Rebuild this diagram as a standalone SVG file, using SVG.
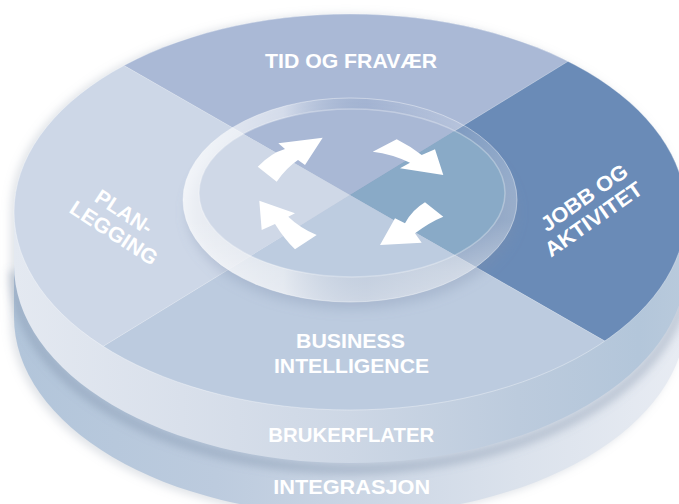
<svg xmlns="http://www.w3.org/2000/svg" width="679" height="504" viewBox="0 0 679 504">
<style>
text{font-family:"Liberation Sans",Arial,"Helvetica",sans-serif;font-weight:bold;fill:#fff;font-size:21px}
.c{text-anchor:middle}
.arrow{fill:#fff}
.qline{stroke:#fff;stroke-opacity:.35;stroke-width:.8}
</style>
<defs>
<linearGradient id="band1" gradientUnits="userSpaceOnUse" x1="14" y1="0" x2="686" y2="0">
<stop offset="0" stop-color="#e4e9f1"/>
<stop offset="0.25" stop-color="#d9e0eb"/>
<stop offset="0.5" stop-color="#cdd7e5"/>
<stop offset="0.75" stop-color="#bccbdd"/>
<stop offset="0.93" stop-color="#b3c6da"/>
<stop offset="1" stop-color="#b9cadc"/>
</linearGradient>
<linearGradient id="band2" gradientUnits="userSpaceOnUse" x1="14" y1="0" x2="686" y2="0">
<stop offset="0" stop-color="#b2c5da"/>
<stop offset="0.3" stop-color="#bccbde"/>
<stop offset="0.5" stop-color="#cad5e4"/>
<stop offset="0.75" stop-color="#dbe2ec"/>
<stop offset="1" stop-color="#e8ecf3"/>
</linearGradient>
<linearGradient id="ringGrad" x1="0" y1="0" x2="1" y2="0">
<stop offset="0" stop-color="#fff" stop-opacity="0.75"/>
<stop offset="0.3" stop-color="#fff" stop-opacity="0.5"/>
<stop offset="0.55" stop-color="#7f97bd" stop-opacity="0.15"/>
<stop offset="0.8" stop-color="#fff" stop-opacity="0.12"/>
<stop offset="1" stop-color="#fff" stop-opacity="0.3"/>
</linearGradient>
<linearGradient id="lipGrad" x1="0" y1="0" x2="0" y2="1">
<stop offset="0.6" stop-color="#fff" stop-opacity="0"/>
<stop offset="0.85" stop-color="#fff" stop-opacity="0.35"/>
<stop offset="1" stop-color="#fff" stop-opacity="0.45"/>
</linearGradient>
<clipPath id="faceClip"><ellipse cx="350" cy="212" rx="336" ry="198"/></clipPath>
<clipPath id="lensClip"><ellipse cx="352" cy="193" rx="153" ry="84"/></clipPath>
<filter id="blur6" x="-20%" y="-20%" width="140%" height="140%"><feGaussianBlur stdDeviation="6"/></filter>
<filter id="blur4" x="-20%" y="-20%" width="140%" height="140%"><feGaussianBlur stdDeviation="4"/></filter>
</defs>

<path d="M14,212 L14,320 A336,198 0 0 0 686,320 L686,212 A336,198 0 0 0 14,212 Z" fill="#9aa4b4" fill-opacity="0.3" filter="url(#blur4)" transform="translate(-4,0)"/>

<g id="layer-integrasjon">
<path d="M14,265 L14,317 A336,198 0 0 0 686,317 L686,265 A336,198 0 0 0 14,265 Z" fill="url(#band2)"/>
<path d="M14,267 A336,198 0 0 0 686,267" fill="none" stroke="#6f819d" stroke-opacity="0.35" stroke-width="10" filter="url(#blur4)" transform="translate(0,4)"/>
<text class="c" x="351.7" y="494" textLength="157" lengthAdjust="spacingAndGlyphs">INTEGRASJON</text>
</g>

<g id="layer-brukerflater">
<path d="M14,212 L14,265 A336,198 0 0 0 686,265 L686,212 A336,198 0 0 0 14,212 Z" fill="url(#band1)"/>
<text class="c" x="351.3" y="441.7" textLength="166" lengthAdjust="spacingAndGlyphs">BRUKERFLATER</text>
</g>

<g id="top-face" clip-path="url(#faceClip)">
<polygon id="q-top" points="-100,-62.9 350,195 800,-80.9 800,-200 -100,-200" fill="#aab9d6"/>
<polygon id="q-right" points="350,195 800,-80.9 800,452.9" fill="#6a8bb7"/>
<polygon id="q-bottom" points="350,195 800,452.9 800,600 -100,600 -100,470.9" fill="#bccbdf"/>
<polygon id="q-left" points="350,195 -100,470.9 -100,-62.9" fill="#cdd7e7"/>
<line class="qline" x1="-100" y1="-62.9" x2="800" y2="452.9"/>
<line class="qline" x1="800" y1="-80.9" x2="-100" y2="470.9"/>
</g>
<ellipse cx="350" cy="212" rx="336" ry="198" fill="none" stroke="#fff" stroke-opacity="0.35" stroke-width="1"/>

<g id="lens">
<ellipse cx="352" cy="212" rx="165" ry="97" fill="#7d8fab" fill-opacity="0.3" filter="url(#blur6)"/>
<ellipse cx="350" cy="200" rx="167" ry="102" fill="url(#ringGrad)"/>
<ellipse cx="350" cy="200" rx="167" ry="102" fill="url(#lipGrad)" stroke="#fff" stroke-opacity="0.4" stroke-width="1"/>
<g clip-path="url(#lensClip)">
<polygon points="-100,-62.9 350,195 800,-80.9 800,-200 -100,-200" fill="#a9b8d5"/>
<polygon points="350,195 800,-80.9 800,452.9" fill="#89aac7"/>
<polygon points="350,195 800,452.9 800,600 -100,600 -100,470.9" fill="#bdcce0"/>
<polygon points="350,195 -100,470.9 -100,-62.9" fill="#cfd8e7"/>
</g>
<ellipse cx="352" cy="193" rx="153" ry="84" fill="none" stroke="#fff" stroke-opacity="0.3" stroke-width="1.5"/>
</g>

<g id="arrows">
<path class="arrow" d="M257.7,166.7 Q271,153 285,149 L278.3,143.3 L322.7,137.7 L305,165 L298,160 Q286,168 276.7,181.7 Z"/>
<path class="arrow" d="M396.7,139.3 Q410,146 421.7,155 L435,149.3 L443.3,175 L400,168.3 L410,162.7 Q392,154 372.7,151.7 Z"/>
<path class="arrow" d="M425,202.3 Q412,210 405,223.3 L395,218.3 L380,245 L421.7,242.7 L415,233.3 Q430,222 443.3,216.7 Z"/>
<path class="arrow" d="M316.7,235 Q300,228 288.3,216.7 L295,213.3 L259.3,200.7 L261.7,230 L275,224 Q285,240 295,249.3 Z"/>
</g>

<g id="label-tid">
<text class="c" x="351" y="68.3" textLength="172" lengthAdjust="spacingAndGlyphs">TID OG FRAVÆR</text>
</g>
<g id="label-jobb" transform="translate(588.3,203.6) rotate(-35)">
<text class="c" x="0" y="0" textLength="101" lengthAdjust="spacingAndGlyphs">JOBB OG</text>
<text class="c" x="-4.7" y="23" textLength="114" lengthAdjust="spacingAndGlyphs">AKTIVITET</text>
</g>
<g id="label-plan" transform="translate(120,218) rotate(33)">
<text class="c" x="0" y="0" textLength="64" lengthAdjust="spacingAndGlyphs">PLAN-</text>
<text class="c" x="3" y="23" textLength="100" lengthAdjust="spacingAndGlyphs">LEGGING</text>
</g>
<g id="label-bi">
<text class="c" x="350.5" y="347.7" textLength="109" lengthAdjust="spacingAndGlyphs">BUSINESS</text>
<text class="c" x="351.5" y="373.3" textLength="155" lengthAdjust="spacingAndGlyphs">INTELLIGENCE</text>
</g>
</svg>
